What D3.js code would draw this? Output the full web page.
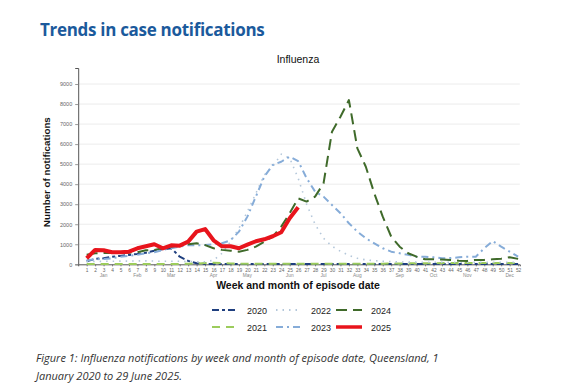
<!DOCTYPE html>
<html lang="en">
<head>
<meta charset="UTF-8">
<title>Trends in case notifications</title>
<script src="https://cdnjs.cloudflare.com/ajax/libs/d3/7.8.5/d3.min.js"></script>
<style>
    body { margin: 0; background: #fff; font-family: 'Liberation Sans', Arial, sans-serif; }
    .title { font-family: 'Open Sans', sans-serif; font-weight: 700; fill: #1b5a9c; }
    .caption { font-family: 'Open Sans', sans-serif; font-style: italic; fill: #333; }
    .tick text { fill: #666; }
    .line { fill: none; }
</style>
</head>
<body>
<div id="chart"></div>
<script>
// weeks 1..52
const weeks = d3.range(1, 53);
const monthLabels = ["Jan", "Feb", "Mar", "Apr", "May", "Jun", "Jul", "Aug", "Sep", "Oct", "Nov", "Dec"];
const monthWeeks = [3, 7, 11, 16, 20, 25, 29, 33, 38, 42, 46, 51];
const yTicks = [0, 1000, 2000, 3000, 4000, 5000, 6000, 7000, 8000, 9000];

const y2020 = [150, 270, 300, 380, 420, 470, 520, 580, 680, 750, 800, 380, 170, 50, 20, 20, 15, 15, 15, 15,
    15, 15, 15, 15, 15, 15, 15, 15, 15, 15, 15, 15, 15, 15, 15, 15, 15, 15, 15, 15,
    15, 15, 15, 15, 15, 15, 15, 15, 15, 15, 15, 15];
const y2021 = [20, 20, 20, 20, 20, 20, 20, 20, 20, 20, 20, 20, 30, 40, 60, 80, 60, 40, 30, 30,
    30, 30, 30, 30, 30, 30, 30, 30, 30, 30, 30, 30, 30, 30, 30, 30, 40, 40, 50, 50,
    50, 50, 60, 60, 60, 60, 60, 60, 60, 60, 60, 60];
const y2022 = [130, 140, 150, 150, 160, 160, 170, 170, 160, 150, 150, 150, 140, 130, 130, 200, 550, 1130, 1800, 2630,
    3540, 4460, 4880, 5500, 5300, 4300, 3000, 2000, 1300, 900, 650, 450, 300, 220, 180, 150, 130, 120, 110, 110,
    100, 100, 100, 100, 100, 100, 100, 100, 100, 100, 100, 100];
const y2023 = [200, 250, 270, 300, 380, 420, 470, 550, 600, 720, 800, 880, 960, 950, 960, 1000, 1050, 1200, 1630, 2380,
    3380, 4380, 4960, 5120, 5370, 5150, 4300, 3630, 3380, 2960, 2550, 2050, 1630, 1300, 1050, 800, 630, 550, 470, 380,
    380, 350, 300, 310, 350, 380, 380, 800, 1160, 880, 630, 380];
const y2024 = [480, 550, 560, 560, 580, 580, 600, 700, 720, 800, 880, 960, 1000, 1050, 960, 800, 720, 680, 630, 720,
    880, 1130, 1380, 1880, 2550, 3290, 3130, 3380, 4040, 6620, 7370, 8200, 5790, 4870, 3540, 2380, 1380, 880, 550, 380,
    250, 250, 240, 220, 180, 170, 220, 220, 250, 280, 350, 270];
const y2025 = [300, 720, 700, 600, 600, 630, 800, 900, 1000, 800, 950, 930, 1130, 1630, 1760, 1200, 900, 900, 800, 980,
    1150, 1250, 1400, 1600, 2300, 2850];

const seriesNames = ["2020", "2021", "2022", "2023", "2024", "2025"];
const seriesValues = [y2020, y2021, y2022, y2023, y2024, y2025];
const seriesColors = ["#1f3f7f", "#9ccc5c", "#b4c7da", "#86acd8", "#3f6a2a", "#e8141c"];
const seriesDash = ["7,3,3,3", "8,6", "1.5,5", "7,4,2,4", "11,6", null];
const seriesWidth = [2, 2, 1.6, 2, 2, 4];

const W = 584, H = 389;
const svg = d3.select("#chart").append("svg").attr("width", W).attr("height", H);

const x = d3.scaleLinear().domain([0, 52.2]).range([78.2, 519.8]);
const y = d3.scaleLinear().domain([0, 9800]).range([264.3, 68]);

svg.append("text").attr("class", "title").attr("x", 40).attr("y", 36)
    .attr("font-size", 17).attr("letter-spacing", -0.3).text("Trends in case notifications");

svg.append("text").attr("x", 298).attr("y", 63).attr("text-anchor", "middle")
    .attr("font-size", 10.5).attr("fill", "#111").text("Influenza");

// grid
svg.append("g").selectAll("line").data(yTicks.slice(1)).join("line")
    .attr("x1", x(0)).attr("x2", x(52.2))
    .attr("y1", d => y(d)).attr("y2", d => y(d))
    .attr("stroke", "#ececec").attr("stroke-width", 1);

// y axis
const yAxis = svg.append("g").attr("transform", `translate(${x(0)},0)`)
    .call(d3.axisLeft(y).tickValues(yTicks).tickFormat(d3.format("d")).tickSize(3).tickPadding(3));
yAxis.select(".domain").attr("stroke", "#555");
yAxis.selectAll(".tick line").attr("stroke", "#999");
yAxis.selectAll("text").attr("font-size", 5.5).attr("fill", "#666");

// x axis
const xAxis = svg.append("g").attr("transform", `translate(0,${y(0)})`)
    .call(d3.axisBottom(x).tickValues(weeks).tickFormat(d3.format("d")).tickSize(2).tickPadding(2));
xAxis.select(".domain").attr("stroke", "#555");
xAxis.selectAll(".tick line").attr("stroke", "#777");
xAxis.selectAll("text").attr("font-size", 4.8).attr("fill", "#777");

svg.append("g").selectAll("text").data(monthLabels).join("text")
    .attr("x", (d, i) => x(monthWeeks[i])).attr("y", y(0) + 13)
    .attr("text-anchor", "middle").attr("font-size", 4.8).attr("fill", "#888")
    .text(d => d);

svg.append("text").attr("x", 298).attr("y", 289).attr("text-anchor", "middle")
    .attr("font-size", 10.5).attr("font-weight", "bold").attr("fill", "#111")
    .text("Week and month of episode date");

svg.append("text").attr("transform", `translate(50,${y(4600)})rotate(-90)`)
    .attr("text-anchor", "middle").attr("font-size", 9.8).attr("font-weight", "bold").attr("fill", "#111")
    .text("Number of notifications");

const line = d3.line().x((d, i) => x(i + 1)).y(d => y(d)).curve(d3.curveLinear);

seriesValues.forEach((vals, k) => {
    svg.append("path").datum(vals).attr("class", "line")
        .attr("d", line)
        .attr("stroke", seriesColors[k])
        .attr("stroke-width", seriesWidth[k])
        .attr("stroke-dasharray", seriesDash[k])
        .attr("stroke-linejoin", "round");
});

// legend: columns (2020,2021) (2022,2023) (2024,2025)
const legCols = [212, 276, 336];
const legRows = [310, 327];
const legend = svg.append("g");
seriesNames.forEach((name, k) => {
    const cx = legCols[Math.floor(k / 2)], cy = legRows[k % 2];
    legend.append("line").attr("x1", cx).attr("x2", cx + 26).attr("y1", cy).attr("y2", cy)
        .attr("stroke", seriesColors[k]).attr("stroke-width", seriesWidth[k] === 4 ? 3.5 : 2)
        .attr("stroke-dasharray", seriesDash[k]);
    legend.append("text").attr("x", cx + 35).attr("y", cy + 3.5)
        .attr("font-size", 9).attr("fill", "#222").text(name);
});

svg.append("text").attr("class", "caption").attr("x", 36).attr("y", 362).attr("font-size", 11)
    .text("Figure 1: Influenza notifications by week and month of episode date, Queensland, 1");
svg.append("text").attr("class", "caption").attr("x", 36).attr("y", 380).attr("font-size", 11)
    .text("January 2020 to 29 June 2025.");
</script>
</body>
</html>
